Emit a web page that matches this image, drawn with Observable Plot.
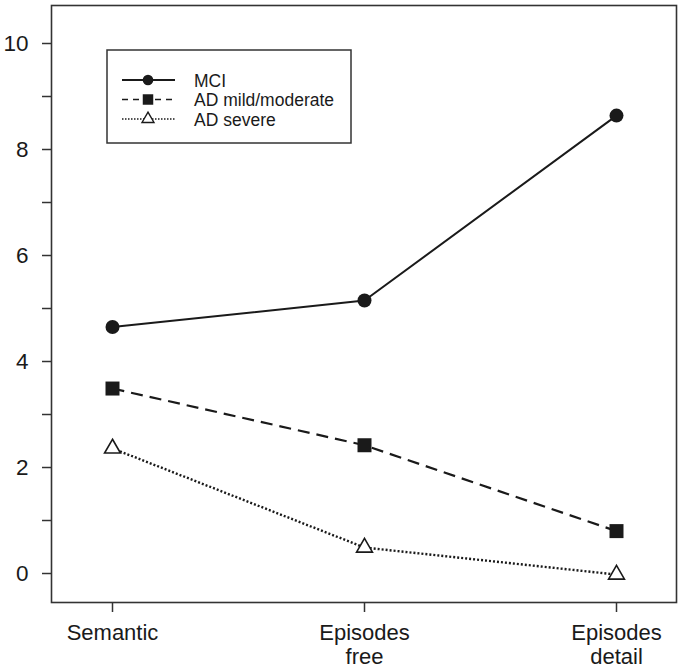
<!DOCTYPE html>
<html>
<head>
<meta charset="utf-8">
<script src="https://cdn.jsdelivr.net/npm/d3@7"></script>
<script src="https://cdn.jsdelivr.net/npm/@observablehq/plot@0.6"></script>
<style>
  html, body { margin: 0; padding: 0; background: #fff; }
  svg { display: block; }
</style>
</head>
<body>
<div id="chart"></div>
<script>
const categories = ["Semantic", "Episodes free", "Episodes detail"];
const categoryLabels = ["Semantic", "Episodes\nfree", "Episodes\ndetail"];
const seriesNames = ["MCI", "AD mild/moderate", "AD severe"];
const mciValues = [4.65, 5.15, 8.64];
const adMildValues = [3.49, 2.42, 0.8];
const adSevereValues = [2.36, 0.49, -0.02];
const majorTicks = [0, 2, 4, 6, 8, 10];
const minorTicks = [1, 3, 5, 7, 9];

const toRows = (name, vals) => vals.map((v, i) => ({series: name, category: categories[i], value: v}));
const mci = toRows(seriesNames[0], mciValues);
const adMild = toRows(seriesNames[1], adMildValues);
const adSevere = toRows(seriesNames[2], adSevereValues);

const FONT = "'Liberation Sans', Arial, Helvetica, sans-serif";
const INK = "#1a1a1a";

const plot = Plot.plot({
  width: 686,
  height: 671,
  marginLeft: 51,
  marginRight: 10,
  marginTop: 5,
  marginBottom: 69,
  style: {fontFamily: FONT, color: INK, background: "#fff"},
  x: {type: "point", domain: categories, padding: 0.24},
  y: {domain: [-0.547, 10.717]},
  marks: [
    Plot.axisY({ticks: majorTicks, tickSize: 9, tickPadding: 14, fontSize: 22.5, label: null, stroke: "#333", strokeWidth: 1.5}),
    Plot.axisY({ticks: minorTicks, tickSize: 9, tickFormat: () => "", label: null, stroke: "#333", strokeWidth: 1.5}),
    Plot.axisX({ticks: categories, tickSize: 10, tickPadding: 11, fontSize: 22, lineHeight: 1.08,
      tickFormat: d => categoryLabels[categories.indexOf(d)], label: null, stroke: "#333", strokeWidth: 1.5}),
    Plot.frame({stroke: "#333", strokeWidth: 1.6}),
    Plot.line(mci, {x: "category", y: "value", stroke: INK, strokeWidth: 2}),
    Plot.line(adMild, {x: "category", y: "value", stroke: INK, strokeWidth: 2.2, strokeDasharray: "12,7", strokeLinecap: "butt"}),
    Plot.line(adSevere, {x: "category", y: "value", stroke: INK, strokeWidth: 2.4, strokeDasharray: "2,2", strokeLinecap: "butt"}),
    Plot.dot(mci, {x: "category", y: "value", symbol: "circle", r: 7, fill: INK}),
    Plot.dot(adMild, {x: "category", y: "value", symbol: "square", r: 7.9, fill: INK}),
    Plot.dot(adSevere, {x: "category", y: "value", symbol: "triangle", r: 5.9, fill: "#fff", stroke: INK, strokeWidth: 1.6})
  ]
});

document.getElementById("chart").appendChild(plot);

// Legend inside the frame
const svg = d3.select(plot);
const lg = svg.append("g").attr("font-family", FONT).attr("text-anchor", "start");
lg.append("rect").attr("x", 107).attr("y", 50).attr("width", 244).attr("height", 93)
  .attr("fill", "#fff").attr("stroke", "#333").attr("stroke-width", 1.5);
const legendStyles = [
  {dash: null, width: 2, sym: d3.symbolCircle, size: Math.PI * 5.3 * 5.3, fill: INK, stroke: "none"},
  {dash: "6,5", width: 1.6, sym: d3.symbolSquare, size: 110, fill: INK, stroke: "none"},
  {dash: "1.5,1.5", width: 1.4, sym: d3.symbolTriangle, size: 62, fill: "#fff", stroke: INK}
];
const rowY = [80, 99.5, 119];
seriesNames.forEach((name, i) => {
  const s = legendStyles[i];
  const ln = lg.append("line").attr("x1", 122).attr("x2", 175).attr("y1", rowY[i]).attr("y2", rowY[i])
    .attr("stroke", INK).attr("stroke-width", s.width);
  if (s.dash) ln.attr("stroke-dasharray", s.dash);
  lg.append("path").attr("d", d3.symbol(s.sym, s.size)())
    .attr("transform", `translate(148,${rowY[i]})`)
    .attr("fill", s.fill).attr("stroke", s.stroke).attr("stroke-width", 1.4);
  lg.append("text").attr("x", 194).attr("y", rowY[i] + 6.5).attr("font-size", 17.5)
    .attr("text-anchor", "start").attr("fill", INK).text(name);
});
</script>
</body>
</html>
